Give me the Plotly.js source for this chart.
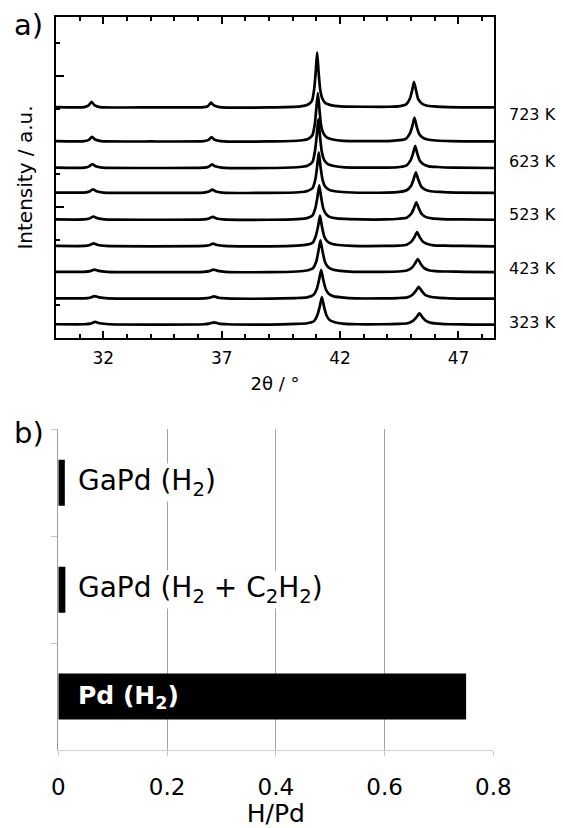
<!DOCTYPE html>
<html>
<head>
<meta charset="utf-8">
<script src="https://cdn.plot.ly/plotly-3.0.1.min.js"></script>
<style>html,body{margin:0;padding:0;background:#fff;}#chart{width:563px;height:828px;}</style>
</head>
<body>
<div id="chart"></div>
<script>
// ---------- panel a) : XRD patterns (2θ in degrees, intensity above each baseline in a.u.) ----------
const temps = ['723 K', '673 K', '623 K', '573 K', '523 K', '473 K', '423 K', '373 K', '323 K'];
const offsets = [7.04, 6.00, 5.19, 4.43, 3.61, 2.80, 2.01, 1.20, 0.41];
const labelledTemps = ['723 K', '623 K', '523 K', '423 K', '323 K'];

const x723 = [30, 31.2,31.38,31.5,31.62,31.85, 34, 36.25,36.43,36.55,36.67,36.9, 39, 40.33,40.63,40.81,40.91,40.97,41.03,41.09,41.16,41.25,41.38,41.6,42.0, 44.08,44.53,44.79,44.95,45.04,45.12,45.21,45.3,45.45,45.64,45.97,46.55, 48.5];
const i723 = [0.01, 0.01,0.06,0.17,0.07,0.01, 0.0, 0.01,0.05,0.15,0.06,0.01, 0.0, 0.03,0.08,0.2,0.59,1.09,1.68,1.09,0.54,0.27,0.13,0.07,0.03, 0.02,0.04,0.09,0.27,0.51,0.78,0.51,0.25,0.12,0.06,0.03,0.01, 0.0];

const x673 = [30, 31.2,31.39,31.52,31.65,31.9, 34, 36.25,36.44,36.57,36.7,36.95, 39, 40.29,40.62,40.82,40.93,40.99,41.06,41.13,41.2,41.3,41.45,41.69,42.13, 44.02,44.51,44.79,44.96,45.05,45.14,45.23,45.34,45.49,45.7,46.05,46.68, 48.5];
const i673 = [0.01, 0.01,0.05,0.14,0.06,0.01, 0.0, 0.01,0.05,0.13,0.05,0.01, 0.0, 0.03,0.07,0.18,0.52,0.96,1.48,0.96,0.47,0.24,0.12,0.06,0.02, 0.01,0.04,0.09,0.26,0.47,0.73,0.47,0.23,0.12,0.06,0.03,0.01, 0.0];

const x623 = [30, 31.2,31.4,31.54,31.68,31.95, 34, 36.25,36.45,36.59,36.73,37.0, 39, 40.28,40.62,40.83,40.94,41.01,41.08,41.15,41.23,41.33,41.48,41.74,42.2, 44.01,44.52,44.81,44.98,45.08,45.17,45.26,45.37,45.53,45.75,46.11,46.77, 48.5];
const i623 = [0.01, 0.01,0.05,0.12,0.05,0.01, 0.0, 0.01,0.04,0.11,0.05,0.01, 0.0, 0.03,0.07,0.18,0.52,0.97,1.49,0.97,0.48,0.24,0.12,0.06,0.02, 0.01,0.03,0.08,0.24,0.44,0.68,0.44,0.22,0.11,0.05,0.03,0.01, 0.0];

const x573 = [30, 31.2,31.41,31.56,31.71,32.0, 34, 36.25,36.45,36.6,36.75,37.0, 39, 40.26,40.62,40.84,40.96,41.03,41.1,41.17,41.26,41.36,41.52,41.78,42.26, 43.96,44.5,44.81,45.0,45.1,45.2,45.3,45.42,45.59,45.82,46.2,46.9, 48.5];
const i573 = [0.01, 0.01,0.04,0.11,0.05,0.01, 0.0, 0.01,0.04,0.1,0.04,0.01, 0.0, 0.02,0.06,0.15,0.43,0.81,1.24,0.81,0.4,0.2,0.1,0.05,0.02, 0.01,0.03,0.08,0.22,0.41,0.63,0.41,0.2,0.1,0.05,0.03,0.01, 0.0];

const x523 = [30, 31.2,31.42,31.58,31.74,32.05, 34, 36.25,36.46,36.62,36.78,37.05, 39, 40.21,40.6,40.83,40.96,41.04,41.12,41.2,41.29,41.41,41.58,41.86,42.38, 43.9,44.48,44.81,45.01,45.11,45.22,45.33,45.45,45.63,45.88,46.29,47.02, 48.5];
const i523 = [0.01, 0.01,0.04,0.1,0.05,0.01, 0.0, 0.01,0.04,0.09,0.04,0.01, 0.0, 0.02,0.05,0.13,0.37,0.68,1.05,0.68,0.34,0.17,0.08,0.04,0.02, 0.01,0.03,0.06,0.19,0.34,0.53,0.34,0.17,0.08,0.04,0.02,0.01, 0.0];

const x473 = [30, 31.2,31.43,31.6,31.77,32.1, 34, 36.25,36.46,36.63,36.8,37.1, 39, 40.17,40.59,40.84,40.98,41.07,41.15,41.23,41.33,41.46,41.64,41.95,42.51, 43.85,44.46,44.81,45.02,45.14,45.25,45.36,45.5,45.69,45.95,46.39,47.15, 48.5];
const i473 = [0.01, 0.01,0.04,0.09,0.04,0.01, 0.0, 0.01,0.03,0.08,0.04,0.01, 0.0, 0.02,0.05,0.11,0.33,0.61,0.94,0.61,0.3,0.15,0.08,0.04,0.01, 0.01,0.02,0.05,0.15,0.28,0.43,0.28,0.14,0.07,0.03,0.02,0.01, 0.0];

const x423 = [30, 31.2,31.44,31.62,31.8,32.15, 34, 36.25,36.47,36.65,36.83,37.15, 39, 40.17,40.59,40.85,41.0,41.08,41.17,41.26,41.36,41.49,41.68,42.0,42.57, 43.8,44.45,44.82,45.04,45.16,45.28,45.4,45.54,45.74,46.02,46.48,47.28, 48.5];
const i423 = [0.01, 0.01,0.03,0.08,0.04,0.01, 0.0, 0.01,0.03,0.08,0.04,0.01, 0.0, 0.02,0.05,0.12,0.34,0.63,0.97,0.63,0.31,0.16,0.08,0.04,0.01, 0.01,0.02,0.05,0.14,0.26,0.4,0.26,0.13,0.06,0.03,0.02,0.01, 0.0];

const x373 = [30, 31.2,31.44,31.63,31.82,32.2, 34, 36.25,36.48,36.67,36.86,37.2, 39, 40.15,40.6,40.87,41.02,41.11,41.2,41.29,41.4,41.53,41.73,42.06,42.66, 43.76,44.44,44.83,45.07,45.19,45.32,45.45,45.59,45.81,46.1,46.59,47.42, 48.5];
const i373 = [0.01, 0.01,0.03,0.08,0.04,0.01, 0.0, 0.01,0.03,0.07,0.03,0.01, 0.0, 0.02,0.04,0.11,0.31,0.57,0.88,0.57,0.28,0.14,0.07,0.04,0.01, 0.01,0.02,0.04,0.13,0.23,0.36,0.23,0.12,0.06,0.03,0.01,0.0, 0.0];

const x323 = [30, 31.2,31.45,31.65,31.85,32.25, 34, 36.25,36.48,36.68,36.88,37.25, 39, 40.14,40.61,40.89,41.04,41.14,41.23,41.32,41.43,41.57,41.77,42.11,42.73, 43.75,44.45,44.85,45.09,45.22,45.35,45.48,45.63,45.85,46.15,46.65,47.55, 48.5];
const i323 = [0.01, 0.01,0.03,0.08,0.04,0.01, 0.0, 0.01,0.03,0.07,0.03,0.01, 0.0, 0.02,0.04,0.1,0.29,0.55,0.84,0.55,0.27,0.13,0.07,0.03,0.01, 0.01,0.02,0.04,0.12,0.22,0.34,0.22,0.11,0.05,0.03,0.01,0.0, 0.0];

const xTicksA = [32, 37, 42, 47];

// ---------- panel b) : H/Pd ratio ----------
const samples = ['GaPd (H2)', 'GaPd (H2 + C2H2)', 'Pd (H2)'];
const sampleLabels = ['GaPd (H<sub>2</sub>)', 'GaPd (H<sub>2</sub> + C<sub>2</sub>H<sub>2</sub>)', '<b>Pd (H<sub>2</sub>)</b>'];
const hPd = [0.012, 0.013, 0.75];
const xTicksB = [0, 0.2, 0.4, 0.6, 0.8];
const xTickTextB = ['0', '0.2', '0.4', '0.6', '0.8'];
const gridB = [0.2, 0.4, 0.6];

// ---------- build ----------
const FONT = 'DejaVu Sans, Liberation Sans, Arial, sans-serif';
const xs = [x723, x673, x623, x573, x523, x473, x423, x373, x323];
const is = [i723, i673, i623, i573, i523, i473, i423, i373, i323];

const traces = xs.map((xv, k) => ({
  type: 'scatter', mode: 'lines', x: xv,
  y: is[k].map(v => v + offsets[k]),
  xaxis: 'x', yaxis: 'y', name: temps[k],
  line: {color: '#000', width: 2.7, shape: 'spline', smoothing: 0.5},
  hoverinfo: 'skip', showlegend: false
}));

// empty helper trace so the grid-only overlay axis is drawn
traces.push({type: 'scatter', mode: 'none', x: [], y: [], xaxis: 'x3', yaxis: 'y2',
  hoverinfo: 'skip', showlegend: false});

traces.push({
  type: 'bar', orientation: 'h', x: hPd, y: samples,
  xaxis: 'x2', yaxis: 'y2', width: 0.43,
  marker: {color: '#000', line: {width: 0}},
  hoverinfo: 'skip', showlegend: false
});

const labelY = {'723 K': 6.81, '623 K': 5.38, '523 K': 3.76, '423 K': 2.11, '323 K': 0.46};
const annotations = labelledTemps.map(t => ({
  xref: 'paper', yref: 'y', x: 494 / 563, y: labelY[t], xanchor: 'left', yanchor: 'middle',
  xshift: 13, text: t, showarrow: false, font: {family: FONT, size: 16, color: '#000'}
}));

samples.forEach((s, k) => {
  const inside = k === 2;
  annotations.push({
    xref: 'x2', yref: 'y2', x: inside ? 0 : hPd[k], y: s,
    xanchor: 'left', yanchor: 'middle', xshift: inside ? 19 : 12,
    text: sampleLabels[k], showarrow: false,
    bgcolor: inside ? 'rgba(0,0,0,0)' : '#fff', borderpad: 0,
    font: {family: FONT, size: inside ? 25 : 28, color: inside ? '#fff' : '#000'}
  });
});

annotations.push({xref: 'paper', yref: 'paper', x: 12 / 563, y: 1 - 25 / 828, xanchor: 'left', yanchor: 'middle',
  text: 'a)', showarrow: false, font: {family: FONT, size: 29, color: '#000'}});
annotations.push({xref: 'paper', yref: 'paper', x: 12 / 563, y: 1 - 433 / 828, xanchor: 'left', yanchor: 'middle',
  text: 'b)', showarrow: false, font: {family: FONT, size: 29, color: '#000'}});

const layout = {
  width: 563, height: 828,
  margin: {l: 0, r: 0, t: 0, b: 0},
  paper_bgcolor: '#fff', plot_bgcolor: '#fff',
  showlegend: false,
  font: {family: FONT, color: '#000'},
  xaxis: {
    domain: [56 / 563, 494 / 563], anchor: 'y', range: [30, 48.5],
    tickvals: xTicksA, ticktext: xTicksA.map(String),
    ticks: 'inside', ticklen: 7, tickwidth: 2, tickcolor: '#000',
    minor: {dtick: 1, tick0: 30, ticks: 'inside', ticklen: 4, tickwidth: 2, tickcolor: '#000'},
    showline: true, linecolor: '#000', linewidth: 2, mirror: 'ticks',
    showgrid: false, zeroline: false, ticklabelstandoff: 4,
    tickfont: {family: FONT, size: 17, color: '#000'},
    title: {text: '2θ / °', font: {family: FONT, size: 18, color: '#000'}, standoff: 10}
  },
  yaxis: {
    domain: [1 - 338 / 828, 1 - 17 / 828], anchor: 'x', range: [0, 9.8],
    tick0: 0, dtick: 2, ticks: 'inside', ticklen: 8, tickwidth: 2, tickcolor: '#000',
    minor: {dtick: 1, tick0: 0, ticks: 'inside', ticklen: 4, tickwidth: 2, tickcolor: '#000'},
    showticklabels: false, showline: true, linecolor: '#000', linewidth: 2, mirror: true,
    showgrid: false, zeroline: false,
    title: {text: 'Intensity / a.u.', font: {family: FONT, size: 20, color: '#000'}, standoff: 16}
  },
  xaxis2: {
    domain: [58.3 / 563, 493.3 / 563], anchor: 'y2', range: [0, 0.8],
    tickvals: xTicksB, ticktext: xTickTextB,
    ticks: 'outside', ticklen: 5, tickwidth: 1, tickcolor: '#c8c8c8',
    showline: true, linecolor: '#d2d2d2', linewidth: 1,
    showgrid: false, zeroline: false, ticklabelstandoff: 11,
    tickfont: {family: FONT, size: 23, color: '#000'},
    title: {text: 'H/Pd', font: {family: FONT, size: 25, color: '#000'}, standoff: 0}
  },
  xaxis3: {
    domain: [58.3 / 563, 493.3 / 563],
    overlaying: 'x2', anchor: 'y2', range: [0, 0.8], autorange: false,
    tickvals: gridB, showticklabels: false, ticks: '',
    showgrid: true, gridcolor: '#a4a4a4', gridwidth: 1, showline: false, zeroline: false
  },
  yaxis2: {
    domain: [1 - 750 / 828, 1 - 429.3 / 828], anchor: 'x2',
    type: 'category', categoryorder: 'array', categoryarray: samples, range: [2.5, -0.5],
    ticks: 'outside', tickson: 'boundaries', ticklen: 6, tickwidth: 1, tickcolor: '#c4c4c4',
    showticklabels: false, showline: true, linecolor: '#9c9c9c', linewidth: 1,
    showgrid: false, zeroline: false
  },
  annotations: annotations
};

Plotly.newPlot('chart', traces, layout, {displayModeBar: false, staticPlot: true});
</script>
</body>
</html>
